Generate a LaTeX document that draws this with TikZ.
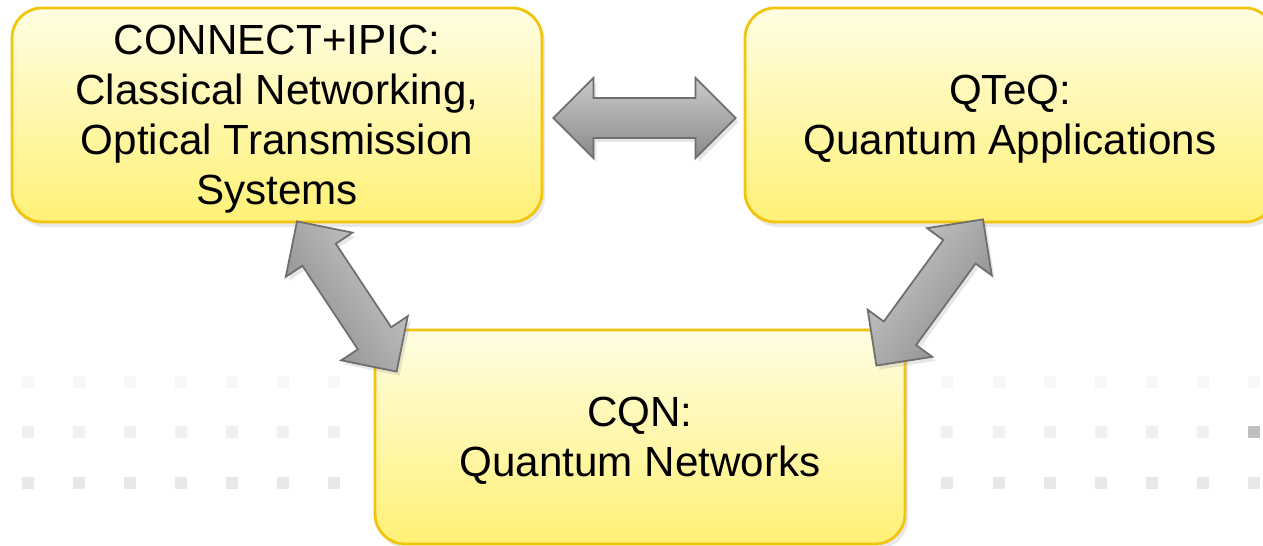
\documentclass[tikz,border=0pt]{standalone}
\usepackage{fontspec}
\setmainfont{Liberation Sans}
\usetikzlibrary{calc,shadows}

\definecolor{boxtop}{HTML}{FFFDE3}
\definecolor{boxbottom}{HTML}{FFF176}
\definecolor{boxedge}{HTML}{F2C40C}
\definecolor{arrowlight}{HTML}{CACACA}
\definecolor{arrowdark}{HTML}{8A8A8A}
\definecolor{arrowedge}{HTML}{6E6E6E}

% block arrow with two heads from #1 to #2, shading turned by #3
\newcommand{\blockarrow}[3]{%
  \path[blockarrow, shading angle=#3] (#1)
    -- ($(#1)!0.4cm!(#2)!0.4cm!90:(#2)$)
    -- ($(#1)!0.4cm!(#2)!0.2cm!90:(#2)$)
    -- ($(#2)!0.4cm!(#1)!0.2cm!-90:(#1)$)
    -- ($(#2)!0.4cm!(#1)!0.4cm!-90:(#1)$)
    -- (#2)
    -- ($(#2)!0.4cm!(#1)!0.4cm!90:(#1)$)
    -- ($(#2)!0.4cm!(#1)!0.2cm!90:(#1)$)
    -- ($(#1)!0.4cm!(#2)!0.2cm!-90:(#2)$)
    -- ($(#1)!0.4cm!(#2)!0.4cm!-90:(#2)$)
    -- cycle;}

\begin{document}
\begin{tikzpicture}[
    groupbox/.style={draw=boxedge, line width=0.8pt, rounded corners=0.3cm,
      top color=boxtop, bottom color=boxbottom,
      drop shadow={shadow xshift=0.03cm, shadow yshift=-0.05cm, opacity=0.18},
      minimum width=5.3cm, minimum height=2.14cm, align=center,
      font=\fontsize{12pt}{14.2pt}\selectfont, text depth=-0.6pt},
    blockarrow/.style={draw=arrowedge, line width=0.5pt, line join=miter,
      top color=arrowlight, bottom color=arrowdark,
      drop shadow={shadow xshift=0.03cm, shadow yshift=-0.04cm, opacity=0.2}}
  ]
    \clip (0,0) rectangle (12.63,-5.46);

    % Dotted background
    \foreach \y/\shade in {3.82/3, 4.32/6, 4.83/9} {
        \foreach \i in {0,...,24} {
            \fill[black!\shade] ({0.22+0.5108*\i},-\y+0.06) rectangle ++(0.12,-0.12);
        }
    }
    \fill[black!25] (12.48,-4.26) rectangle ++(0.12,-0.12);

    % Groups
    \node[groupbox] (classic) at (2.77,-1.15) {CONNECT+IPIC:\\Classical Networking,\\Optical Transmission\\Systems};
    \node[groupbox] (qteq) at (10.10,-1.15) {QTeQ:\\Quantum Applications};
    \node[groupbox] (cqn) at (6.40,-4.37) {CQN:\\Quantum Networks};

    % Arrow ends
    \coordinate (h1) at ([xshift=0.10cm, yshift=-0.03cm]classic.east);
    \coordinate (h2) at ([xshift=-0.08cm, yshift=-0.03cm]qteq.west);
    \coordinate (l1) at ([xshift=0.20cm, yshift=0.02cm]classic.south);
    \coordinate (l2) at ([xshift=0.23cm, yshift=-0.43cm]cqn.north west);
    \coordinate (r1) at ([xshift=-0.27cm, yshift=0.04cm]qteq.south);
    \coordinate (r2) at ([xshift=-0.30cm, yshift=-0.37cm]cqn.north east);

    % Links
    \blockarrow{h1}{h2}{0}
    \blockarrow{l1}{l2}{-57}
    \blockarrow{r2}{r1}{54}
\end{tikzpicture}
\end{document}
